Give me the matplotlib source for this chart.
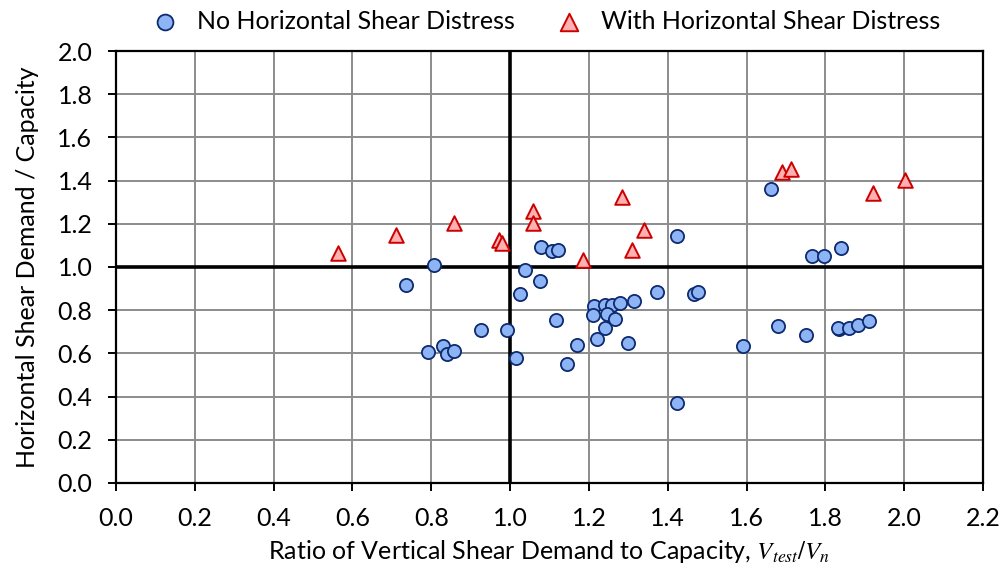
import matplotlib
matplotlib.use("Agg")
import matplotlib.pyplot as plt
from matplotlib.ticker import MultipleLocator, FormatStrFormatter

plt.rcParams["font.family"] = ["Lato", "DejaVu Sans"]
plt.rcParams["mathtext.fontset"] = "stix"

# no horizontal shear distress
no_x = [0.808, 0.737, 1.079, 1.107, 1.121, 1.037, 1.077, 1.025, 0.925, 0.992,
        0.792, 0.831, 0.841, 0.857, 1.016, 1.116, 1.169, 1.145, 1.220, 1.240,
        1.300, 1.214, 1.210, 1.241, 1.259, 1.280, 1.314, 1.247, 1.265, 1.372,
        1.424, 1.424, 1.467, 1.477, 1.662, 1.591, 1.680, 1.750, 1.765, 1.796,
        1.841, 1.835, 1.832, 1.860, 1.884, 1.911]
no_y = [1.011, 0.918, 1.094, 1.074, 1.077, 0.988, 0.937, 0.877, 0.709, 0.706,
        0.606, 0.634, 0.597, 0.609, 0.580, 0.754, 0.639, 0.552, 0.666, 0.719,
        0.650, 0.818, 0.779, 0.826, 0.822, 0.833, 0.841, 0.781, 0.761, 0.883,
        1.142, 0.371, 0.875, 0.883, 1.363, 0.635, 0.727, 0.683, 1.050, 1.052,
        1.086, 0.715, 0.719, 0.718, 0.732, 0.748]

# with horizontal shear distress
with_x = [0.563, 0.710, 0.858, 0.973, 0.980, 1.059, 1.057, 1.184, 1.283, 1.310,
          1.339, 1.689, 1.712, 1.922, 2.002]
with_y = [1.064, 1.147, 1.203, 1.126, 1.110, 1.261, 1.203, 1.030, 1.323, 1.077,
          1.169, 1.438, 1.454, 1.341, 1.404]

fig = plt.figure(figsize=(10.02, 5.77), dpi=100)
ax = fig.add_axes([0.1158, 0.163, 0.8652, 0.7486])

ax.set_xlim(0, 2.2)
ax.set_ylim(0, 2.0)
ax.xaxis.set_major_locator(MultipleLocator(0.2))
ax.yaxis.set_major_locator(MultipleLocator(0.2))
ax.xaxis.set_major_formatter(FormatStrFormatter("%.1f"))
ax.yaxis.set_major_formatter(FormatStrFormatter("%.1f"))

ax.grid(True, color="#8c8c8c", linewidth=1.4, zorder=0)
ax.set_axisbelow(True)
ax.axvline(1.0, color="black", linewidth=2.6, zorder=1)
ax.axhline(1.0, color="black", linewidth=2.6, zorder=1)

for s in ax.spines.values():
    s.set_linewidth(1.6)
    s.set_color("black")
ax.tick_params(axis="both", direction="out", length=6, width=1.4,
               labelsize=18, colors="black")
ax.tick_params(axis="x", pad=11)
ax.tick_params(axis="y", pad=11)

ax.scatter(no_x, no_y, s=90, marker="o", facecolor="#8db4f5",
           edgecolor="#0e2a6e", linewidth=1.3, zorder=3,
           label="No Horizontal Shear Distress")
ax.scatter(with_x, with_y, s=110, marker="^", facecolor="#ffb0b0",
           edgecolor="#cc0000", linewidth=1.4, zorder=3,
           label="With Horizontal Shear Distress")

ax.set_xlabel(r"Ratio of Vertical Shear Demand to Capacity, $V_{test}/V_n$",
              fontsize=18, labelpad=6)
ax.set_ylabel("Horizontal Shear Demand / Capacity", fontsize=18, labelpad=13)

fig.legend(loc="center", bbox_to_anchor=(0.544, 0.963), ncol=2, frameon=False,
           fontsize=18, handlelength=1.2, handletextpad=0.68,
           columnspacing=1.6, markerscale=1.2)

fig.savefig("out.png", dpi=100)
